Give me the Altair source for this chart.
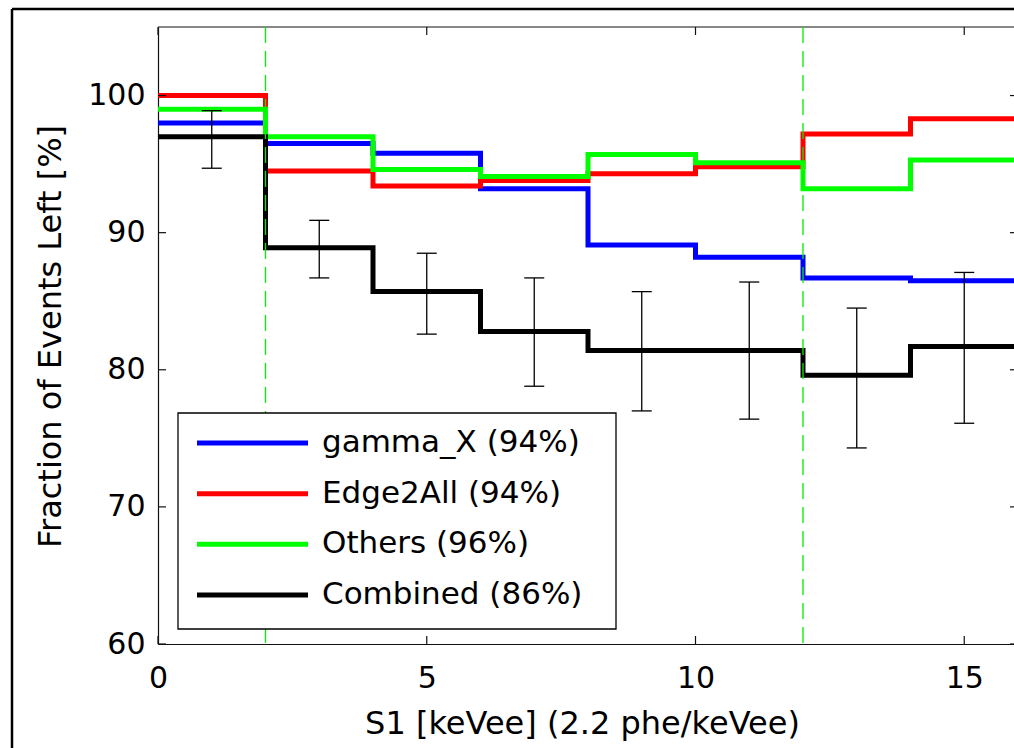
import altair as alt
import pandas as pd

# ---- data ----
bin_edges = [0, 2, 4, 6, 8, 10, 12, 14]
x_end = 16
gamma_x = [98.0, 96.5, 95.8, 93.2, 89.1, 88.2, 86.7, 86.5]
edge2all = [100.0, 94.5, 93.4, 93.8, 94.3, 94.8, 97.2, 98.3]
others = [99.0, 97.0, 94.6, 94.1, 95.7, 95.1, 93.2, 95.3]
combined = [97.0, 88.9, 85.7, 82.8, 81.4, 81.4, 79.6, 81.7]

err_x = [1, 3, 5, 7, 9, 11, 13, 15]
err_hi = [98.9, 90.9, 88.5, 86.7, 85.7, 86.4, 84.5, 87.1]
err_lo = [94.7, 86.7, 82.6, 78.8, 77.0, 76.4, 74.3, 76.1]

cut_x = [2, 12]
x_ticks = [0, 5, 10, 15]
y_ticks = [60, 70, 80, 90, 100]

series_names = ["gamma_X (94%)", "Edge2All (94%)", "Others (96%)", "Combined (86%)"]
series_colors = ["#0000ff", "#ff0000", "#00ff00", "#000000"]
series_values = [gamma_x, edge2all, others, combined]

FONT = "DejaVu Sans"
W = 856
W_RANGE = 860
H = 617

x_scale = alt.Scale(domain=[0, 16], range=[0, W_RANGE], nice=False, zero=False)
y_scale = alt.Scale(domain=[60, 105], nice=False, zero=False)

x_axis = alt.Axis(values=x_ticks, format="d", title="S1 [keVee] (2.2 phe/keVee)",
                  labelFontSize=30, labelPadding=19, labelFlush=False, labelOverlap=False,
                  titleFontSize=32, titleFontWeight="normal", titleX=424, titleY=89,
                  titleBaseline="alphabetic", titleAlign="center")
y_axis = alt.Axis(values=y_ticks, format="d", title="Fraction of Events Left [%]",
                  labelFontSize=30, labelPadding=13, labelFlush=False, labelOverlap=False,
                  titleFontSize=32, titleFontWeight="normal", titleX=-98, titleY=309,
                  titleAngle=270, titleBaseline="alphabetic", titleAlign="center")

def X(field="x"):
    return alt.X(f"{field}:Q", scale=x_scale, axis=x_axis)

def Y(field="y", axis=None):
    return alt.Y(f"{field}:Q", scale=y_scale, axis=axis)

dummy = pd.DataFrame({"d": [0]})
layers = []

# outer frame (top and left edges visible)
layers.append(alt.Chart(dummy).mark_rule(color="#000", strokeWidth=2.5).encode(
    x=alt.value(-146), x2=alt.value(W_RANGE + 50), y=alt.value(-18)))
layers.append(alt.Chart(dummy).mark_rule(color="#000", strokeWidth=2.5).encode(
    x=alt.value(-146), y=alt.value(-18), y2=alt.value(H + 200)))
# plot box top edge
layers.append(alt.Chart(dummy).mark_rule(color="#111", strokeWidth=1.2).encode(
    x=alt.value(0), x2=alt.value(W_RANGE), y=alt.value(0)))

# step lines
for i, (name, color, vals) in enumerate(zip(series_names, series_colors, series_values)):
    df = pd.DataFrame({"x": bin_edges + [x_end], "y": vals + [vals[-1]]})
    layers.append(alt.Chart(df).mark_line(interpolate="step-after", color=color, strokeWidth=5,
                                          strokeJoin="miter", strokeCap="butt").encode(
        x=X(),
        y=Y(axis=y_axis if i == 0 else None)))

# error bars
err_df = pd.DataFrame({"x": err_x, "lo": err_lo, "hi": err_hi})
layers.append(alt.Chart(err_df).mark_rule(color="#000", strokeWidth=1.3).encode(
    x=X(), y=Y("lo"), y2="hi:Q"))
for f in ["lo", "hi"]:
    layers.append(alt.Chart(err_df).mark_rule(color="#000", strokeWidth=1.3,
                                              xOffset=-10, x2Offset=10).encode(
        x=X(), x2="x:Q", y=Y(f)))

# dashed cut lines
cut_df = pd.DataFrame({"x": cut_x})
layers.append(alt.Chart(cut_df).mark_rule(color="#00ee00", strokeWidth=1.3,
                                          strokeDash=[16, 8]).encode(x=X()))

# inward ticks on all sides
xt = pd.DataFrame({"x": x_ticks})
yt = pd.DataFrame({"y": y_ticks})
layers.append(alt.Chart(xt).mark_rule(color="#111", strokeWidth=1.2).encode(
    x=X(), y=alt.value(H), y2=alt.value(H - 8)))
layers.append(alt.Chart(xt).mark_rule(color="#111", strokeWidth=1.2).encode(
    x=X(), y=alt.value(0), y2=alt.value(8)))
layers.append(alt.Chart(yt).mark_rule(color="#111", strokeWidth=1.2).encode(
    y=Y(), x=alt.value(0), x2=alt.value(8)))
layers.append(alt.Chart(yt).mark_rule(color="#111", strokeWidth=1.2).encode(
    y=Y(), x=alt.value(W_RANGE - 8), x2=alt.value(W_RANGE)))

# legend
leg_df = pd.DataFrame({"name": series_names, "color": series_colors, "row": [0, 1, 2, 3]})
leg_scale = alt.Scale(domain=[0, 3], range=[416, 568], nice=False, zero=False)
layers.append(alt.Chart(dummy).mark_rect(fill="white", stroke="#000", strokeWidth=1.3).encode(
    x=alt.value(20), x2=alt.value(458), y=alt.value(386), y2=alt.value(602)))
layers.append(alt.Chart(leg_df).mark_rule(strokeWidth=5).encode(
    x=alt.value(39), x2=alt.value(150),
    y=alt.Y("row:Q", scale=leg_scale, axis=None),
    color=alt.Color("color:N", scale=None, legend=None)))
layers.append(alt.Chart(leg_df).mark_text(align="left", baseline="middle", fontSize=31,
                                          font=FONT, color="#000").encode(
    x=alt.value(164),
    y=alt.Y("row:Q", scale=leg_scale, axis=None),
    text="name:N"))

chart = alt.layer(*layers).resolve_scale(y="independent").properties(
    width=W, height=H,
    autosize=alt.AutoSizeParams(type="none"),
    padding={"left": 158, "top": 27, "right": 0, "bottom": 104},
    background="white",
).configure_view(stroke=None).configure_axis(
    grid=False, ticks=False, domain=True, domainColor="#111", domainWidth=1.2,
    labelFont=FONT, titleFont=FONT, labelColor="#000", titleColor="#000",
)

chart.save("out.html", embed_options={"renderer": "svg", "actions": False})
